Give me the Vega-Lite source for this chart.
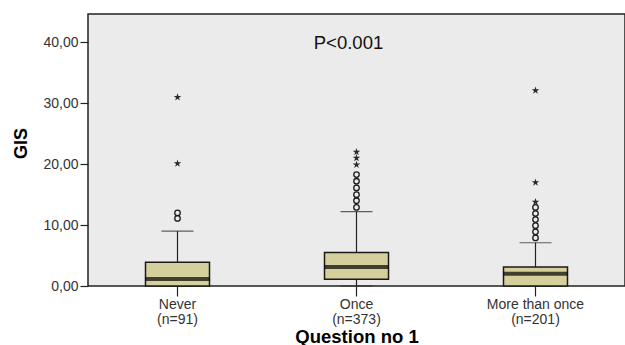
{
  "$schema": "https://vega.github.io/schema/vega-lite/v6.json",
  "autosize": {"type": "none"},
  "padding": {"left": 88, "top": 14, "right": 0, "bottom": 59},
  "width": 537,
  "height": 272,
  "config": {
    "font": "Liberation Sans",
    "view": {"stroke": "#222222", "strokeWidth": 1.5, "fill": "#EBEBEB"},
    "background": "white"
  },
  "datasets": {
    "boxes": [
      {"cat": "Never", "lower": 0, "q1": 0, "median": 1.15, "q3": 3.9, "upper": 9.0},
      {"cat": "Once", "lower": 0, "q1": 1.1, "median": 3.1, "q3": 5.5, "upper": 12.2},
      {"cat": "More than once", "lower": 0, "q1": 0, "median": 2.0, "q3": 3.1, "upper": 7.1}
    ],
    "circles": [
      {"cat": "Never", "value": 11.1},
      {"cat": "Never", "value": 12.0},
      {"cat": "Once", "value": 12.9},
      {"cat": "Once", "value": 14.0},
      {"cat": "Once", "value": 15.0},
      {"cat": "Once", "value": 16.1},
      {"cat": "Once", "value": 17.2},
      {"cat": "Once", "value": 18.3},
      {"cat": "More than once", "value": 7.9},
      {"cat": "More than once", "value": 8.9},
      {"cat": "More than once", "value": 9.9},
      {"cat": "More than once", "value": 10.9},
      {"cat": "More than once", "value": 11.9},
      {"cat": "More than once", "value": 12.9}
    ],
    "stars": [
      {"cat": "Never", "value": 20.1},
      {"cat": "Never", "value": 31.0},
      {"cat": "Once", "value": 19.9},
      {"cat": "Once", "value": 21.0},
      {"cat": "Once", "value": 22.0},
      {"cat": "More than once", "value": 13.8},
      {"cat": "More than once", "value": 17.0},
      {"cat": "More than once", "value": 32.1}
    ],
    "note": [
      {"cat": "Once", "value": 39.85, "label": "P<0.001"}
    ]
  },
  "encoding": {
    "x": {
      "field": "cat",
      "type": "nominal",
      "scale": {"domain": ["Never", "Once", "More than once"], "paddingInner": 0, "paddingOuter": 0},
      "axis": {
        "title": "Question no 1",
        "titleFontSize": 18.5,
        "titleFontWeight": "bold",
        "titleColor": "#000000",
        "titlePadding": 1,
        "labelAngle": 0,
        "labelFontSize": 14,
        "labelColor": "#333333",
        "labelLineHeight": 15,
        "labelPadding": 1,
        "labelExpr": "datum.label == 'Never' ? ['Never', '(n=91)'] : datum.label == 'Once' ? ['Once', '(n=373)'] : ['More than once', '(n=201)']",
        "domain": false,
        "ticks": true,
        "tickSize": 10,
        "tickColor": "#222222",
        "tickWidth": 1.2,
        "grid": false
      }
    }
  },
  "layer": [
    {
      "data": {"name": "boxes"},
      "mark": {"type": "rule", "color": "#222222", "strokeWidth": 1.2},
      "encoding": {
        "y": {
          "field": "lower",
          "type": "quantitative",
          "scale": {"domain": [0, 44.66], "nice": false, "zero": true},
          "axis": {
            "title": "GIS",
            "titleFontSize": 18,
            "titleFontWeight": "bold",
            "titleColor": "#000000",
            "titlePadding": 12,
            "titleY": 129,
            "values": [0, 10, 20, 30, 40],
            "labelExpr": "replace(format(datum.value, '.2f'), '.', ',')",
            "labelFontSize": 14,
            "labelColor": "#333333",
            "labelPadding": 2,
            "domain": false,
            "tickSize": 8,
            "tickColor": "#222222",
            "tickWidth": 1.2,
            "grid": false
          }
        },
        "y2": {"field": "upper"}
      }
    },
    {
      "data": {"name": "boxes"},
      "mark": {"type": "tick", "color": "#222222", "size": 32, "thickness": 1.2},
      "encoding": {"y": {"field": "upper", "type": "quantitative"}}
    },
    {
      "data": {"name": "boxes"},
      "mark": {"type": "tick", "color": "#222222", "size": 32, "thickness": 1.2},
      "encoding": {"y": {"field": "lower", "type": "quantitative"}}
    },
    {
      "data": {"name": "boxes"},
      "mark": {"type": "bar", "width": 64, "fill": "#D5CF9C", "stroke": "#1a1a1a", "strokeWidth": 1.5},
      "encoding": {
        "y": {"field": "q1", "type": "quantitative"},
        "y2": {"field": "q3"}
      }
    },
    {
      "data": {"name": "boxes"},
      "mark": {"type": "tick", "color": "#000000", "size": 64, "thickness": 4},
      "encoding": {"y": {"field": "median", "type": "quantitative"}}
    },
    {
      "data": {"name": "circles"},
      "mark": {"type": "point", "shape": "circle", "filled": false, "stroke": "#1a1a1a", "strokeWidth": 1.3, "size": 30, "opacity": 1},
      "encoding": {"y": {"field": "value", "type": "quantitative"}}
    },
    {
      "data": {"name": "stars"},
      "mark": {"type": "point", "shape": "M0,-1L0.2245,-0.309L0.951,-0.309L0.363,0.118L0.588,0.809L0,0.382L-0.588,0.809L-0.363,0.118L-0.951,-0.309L-0.2245,-0.309Z", "filled": true, "fill": "#2a2a2a", "size": 64, "opacity": 1},
      "encoding": {"y": {"field": "value", "type": "quantitative"}}
    },
    {
      "data": {"name": "note"},
      "mark": {"type": "text", "fontSize": 18.5, "color": "#111111", "dx": -8, "baseline": "middle", "align": "center"},
      "encoding": {
        "y": {"field": "value", "type": "quantitative"},
        "text": {"field": "label"}
      }
    }
  ]
}
